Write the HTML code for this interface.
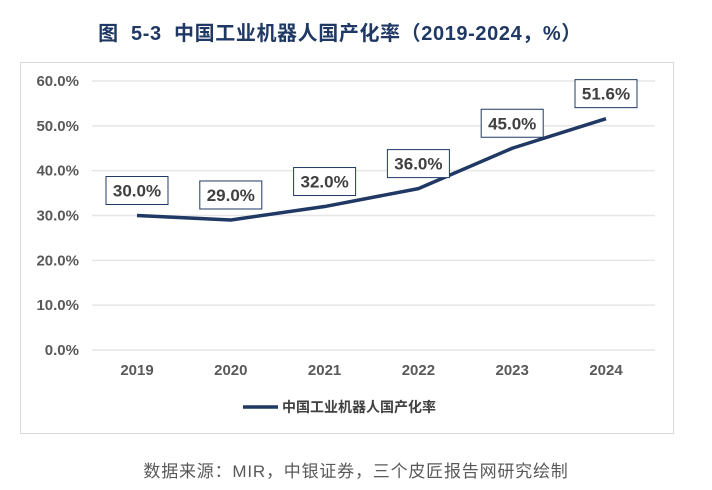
<!DOCTYPE html>
<html><head><meta charset="utf-8"><style>
body{margin:0;background:#fff;width:712px;height:490px;overflow:hidden;font-family:"Liberation Sans","Noto Sans CJK SC",sans-serif}
</style></head><body>
<svg id="c" width="712" height="490" style="position:absolute;left:0;top:0">
<text x="340" y="40" text-anchor="middle" font-size="20" font-weight="bold" fill="#1f3864" style="white-space:pre" letter-spacing="0.6">图  5-3  中国工业机器人国产化率（2019-2024，%）</text>
<rect x="20.5" y="62.5" width="653" height="371" fill="none" stroke="#d9d9d9"/>
<g id="grid"></g><g id="ylab"></g><g id="xlab"></g>
<path id="line" fill="none" stroke="#1f3864" stroke-width="3.5" stroke-linejoin="round"/>
<g id="lbls"></g>
<line x1="243" y1="407" x2="278" y2="407" stroke="#1f3864" stroke-width="3.5"/>
<text x="282" y="412" font-size="14" font-weight="bold" fill="#404040">中国工业机器人国产化率</text>
<text x="356" y="477" text-anchor="middle" font-size="17" fill="#595959" letter-spacing="0.8">数据来源：MIR，中银证券，三个皮匠报告网研究绘制</text>
</svg>
<script>
const categories=["2019","2020","2021","2022","2023","2024"];
const values=[30.0,29.0,32.0,36.0,45.0,51.6];
const valueLabels=["30.0%","29.0%","32.0%","36.0%","45.0%","51.6%"];
const yTicks=[0,10,20,30,40,50,60];
const NS="http://www.w3.org/2000/svg";
const x=i=>137+i*93.8;
const y=v=>350-v*(269/60);
function mk(t,a,p,txt){const e=document.createElementNS(NS,t);for(const k in a)e.setAttribute(k,a[k]);if(txt!==undefined)e.textContent=txt;document.getElementById(p).appendChild(e);return e;}
yTicks.forEach(v=>{
 const l=mk('line',{x1:92,x2:655,y1:y(v),y2:y(v),stroke:'#e6e6e6','stroke-width':1.5},'grid');
 
 
 const t=mk('text',{x:79,y:y(v)+5,'text-anchor':'end','font-size':15,'font-weight':'bold',fill:'#595959'},'ylab',v.toFixed(1)+'%');
 
 
});
categories.forEach((c,i)=>{
 const t=mk('text',{x:x(i),y:375,'text-anchor':'middle','font-size':15,'font-weight':'bold',fill:'#595959'},'xlab',c);
 
 
});
document.getElementById('line').setAttribute('d',values.map((v,i)=>(i?'L':'M')+x(i)+','+y(v)).join(''));
values.forEach((v,i)=>{
 const by=y(v)-11-28;
 const r=mk('rect',{x:x(i)-31,y:by,width:62,height:28,fill:'#fff',stroke:'#1f3864','stroke-width':1},'lbls');
 
 
 const t=mk('text',{x:x(i),y:by+20,'text-anchor':'middle','font-size':17,'font-weight':'bold',fill:'#404040'},'lbls',valueLabels[i]);
 
 
});
</script>
</body></html>
